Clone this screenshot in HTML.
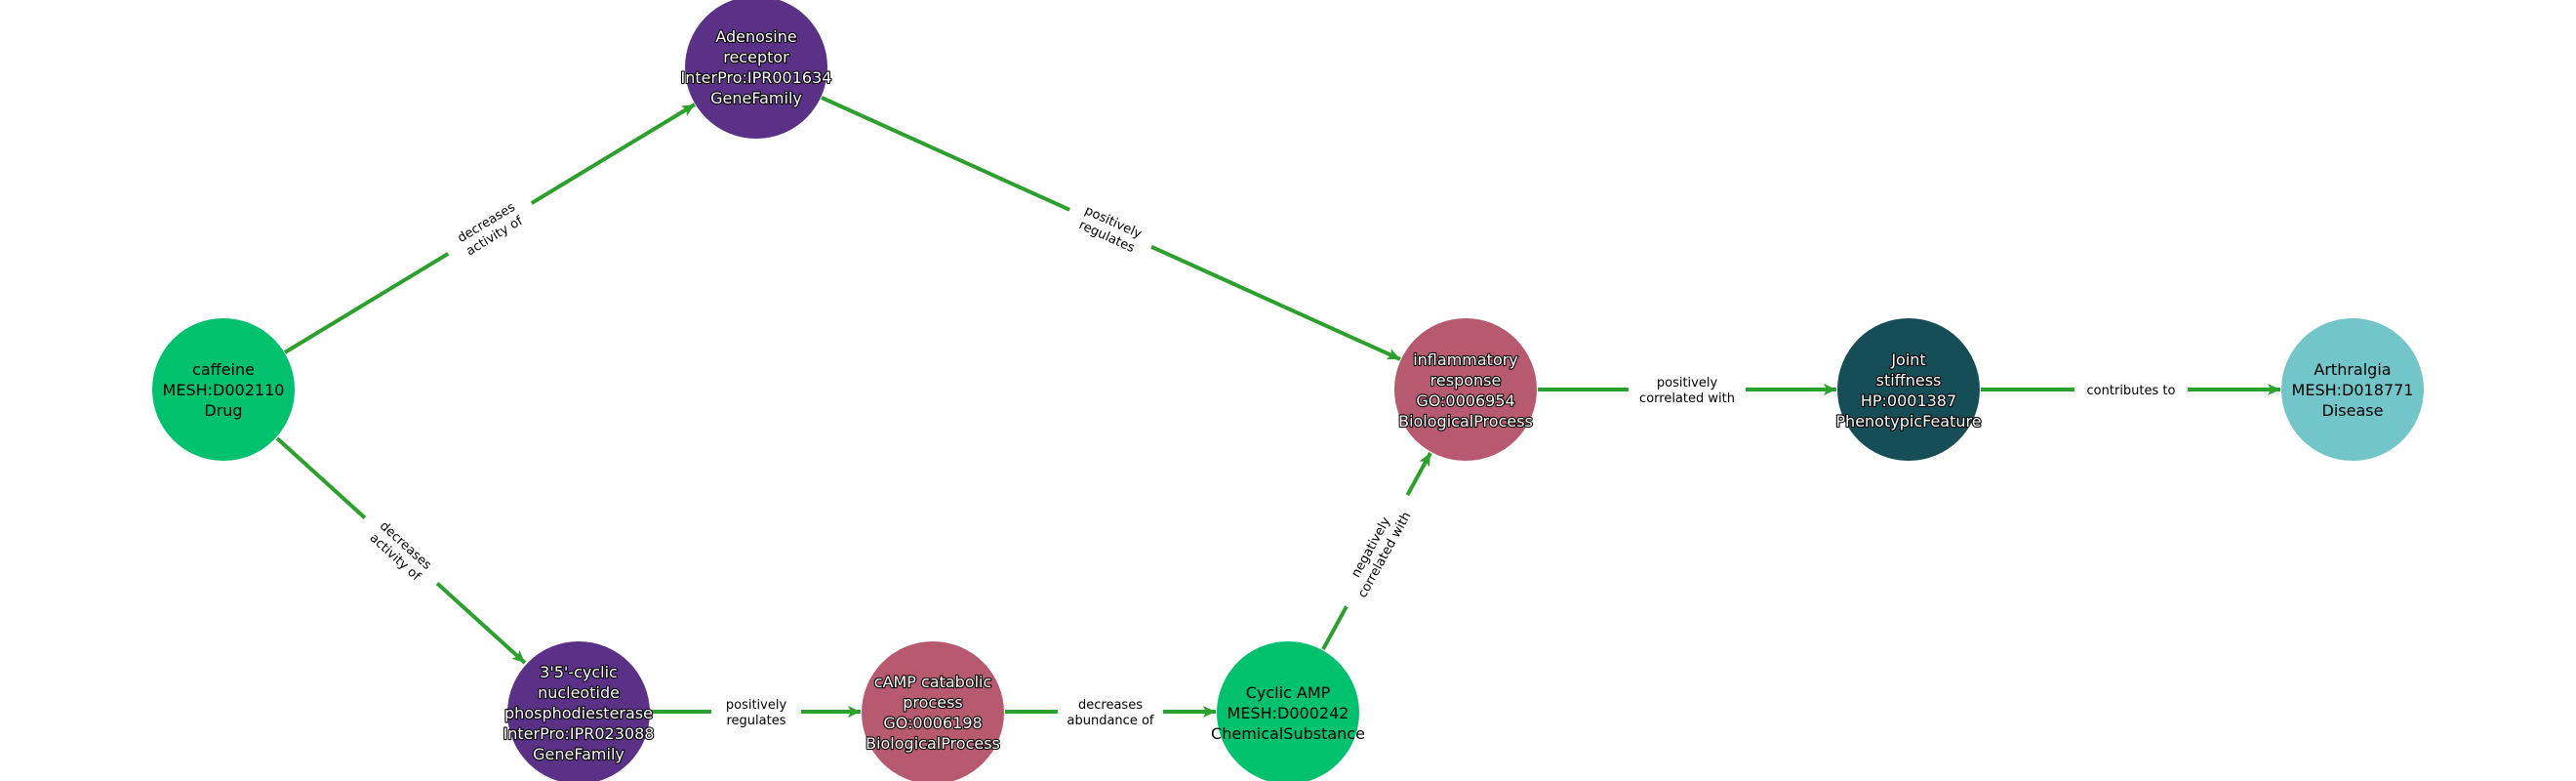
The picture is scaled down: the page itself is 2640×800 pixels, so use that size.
<!DOCTYPE html>
<html><head><meta charset="utf-8"><style>
html,body{margin:0;padding:0;background:#fff;}
svg{display:block;}
.nl{font-family:"DejaVu Sans","Liberation Sans",sans-serif;font-size:16px;text-anchor:middle;}
.w{fill:#fff;stroke:#000;stroke-width:2.2px;paint-order:stroke;stroke-linejoin:round;}
.b{fill:#000;}
.el{font-family:"DejaVu Sans","Liberation Sans",sans-serif;font-size:13px;text-anchor:middle;fill:#000;}
rect.bg{fill:#fff;}
line{stroke:#2ca02c;stroke-width:4;}
</style></head><body>
<svg width="2640" height="800" viewBox="0 0 2640 800" xmlns="http://www.w3.org/2000/svg">
<defs>
<marker id="a" markerUnits="userSpaceOnUse" markerWidth="14" markerHeight="12" refX="13" refY="6" orient="auto">
<path d="M0,0 L13,6 L0,12 L3,6 z" fill="#2ca02c"/>
</marker>
</defs>
<line x1="292" y1="361" x2="712" y2="107" marker-end="url(#a)"/>
<line x1="284" y1="449" x2="538" y2="679" marker-end="url(#a)"/>
<line x1="842" y1="100" x2="1435" y2="368" marker-end="url(#a)"/>
<line x1="1356" y1="665" x2="1466" y2="464" marker-end="url(#a)"/>
<line x1="667" y1="729" x2="882" y2="729" marker-end="url(#a)"/>
<line x1="1030" y1="729" x2="1246" y2="729" marker-end="url(#a)"/>
<line x1="1576" y1="399" x2="1882" y2="399" marker-end="url(#a)"/>
<line x1="2030" y1="399" x2="2337" y2="399" marker-end="url(#a)"/>

<g transform="translate(502,234) rotate(-31.1)"><rect class="bg" x="-50" y="-17" width="100" height="36"/><text class="el" y="-3">decreases</text><text class="el" y="13">activity of</text></g>
<g transform="translate(411,564) rotate(42.2)"><rect class="bg" x="-50" y="-17" width="100" height="36"/><text class="el" y="-3">decreases</text><text class="el" y="13">activity of</text></g>
<g transform="translate(1138,234) rotate(24.4)"><rect class="bg" x="-46" y="-17" width="92" height="36"/><text class="el" y="-3">positively</text><text class="el" y="13">regulates</text></g>
<g transform="translate(1411,564) rotate(-61.2)"><rect class="bg" x="-65" y="-17" width="130" height="36"/><text class="el" y="-3">negatively</text><text class="el" y="13">correlated with</text></g>
<g transform="translate(775,729)"><rect class="bg" x="-46" y="-17" width="92" height="36"/><text class="el" y="-3">positively</text><text class="el" y="13">regulates</text></g>
<g transform="translate(1138,729)"><rect class="bg" x="-54" y="-17" width="108" height="36"/><text class="el" y="-3">decreases</text><text class="el" y="13">abundance of</text></g>
<g transform="translate(1729,399)"><rect class="bg" x="-60" y="-17" width="120" height="36"/><text class="el" y="-3">positively</text><text class="el" y="13">correlated with</text></g>
<g transform="translate(2184,399)"><rect class="bg" x="-58" y="-10" width="116" height="20"/><text class="el" y="5">contributes to</text></g>

<circle cx="229" cy="399" r="73" fill="#00c26e"/>
<circle cx="775" cy="69" r="73" fill="#5b3087"/>
<circle cx="593" cy="730" r="73" fill="#5b3087"/>
<circle cx="956" cy="730" r="73" fill="#b85a6f"/>
<circle cx="1320" cy="730" r="73" fill="#00c26e"/>
<circle cx="1502" cy="399" r="73" fill="#b85a6f"/>
<circle cx="1956" cy="399" r="73" fill="#164e57"/>
<circle cx="2411" cy="399" r="73" fill="#72c6c9"/>

<g class="nl b"><text x="229" y="384">caffeine</text><text x="229" y="405">MESH:D002110</text><text x="229" y="426">Drug</text></g>
<g class="nl w"><text x="775" y="43">Adenosine</text><text x="775" y="64">receptor</text><text x="775" y="85">InterPro:IPR001634</text><text x="775" y="106">GeneFamily</text></g>
<g class="nl w"><text x="593" y="694">3'5'-cyclic</text><text x="593" y="715">nucleotide</text><text x="593" y="736">phosphodiesterase</text><text x="593" y="757">InterPro:IPR023088</text><text x="593" y="778">GeneFamily</text></g>
<g class="nl w"><text x="956" y="704">cAMP catabolic</text><text x="956" y="725">process</text><text x="956" y="746">GO:0006198</text><text x="956" y="767">BiologicalProcess</text></g>
<g class="nl b"><text x="1320" y="715">Cyclic AMP</text><text x="1320" y="736">MESH:D000242</text><text x="1320" y="757">ChemicalSubstance</text></g>
<g class="nl w"><text x="1502" y="374">inflammatory</text><text x="1502" y="395">response</text><text x="1502" y="416">GO:0006954</text><text x="1502" y="437">BiologicalProcess</text></g>
<g class="nl w"><text x="1956" y="374">Joint</text><text x="1956" y="395">stiffness</text><text x="1956" y="416">HP:0001387</text><text x="1956" y="437">PhenotypicFeature</text></g>
<g class="nl b"><text x="2411" y="384">Arthralgia</text><text x="2411" y="405">MESH:D018771</text><text x="2411" y="426">Disease</text></g>
</svg>
</body></html>
